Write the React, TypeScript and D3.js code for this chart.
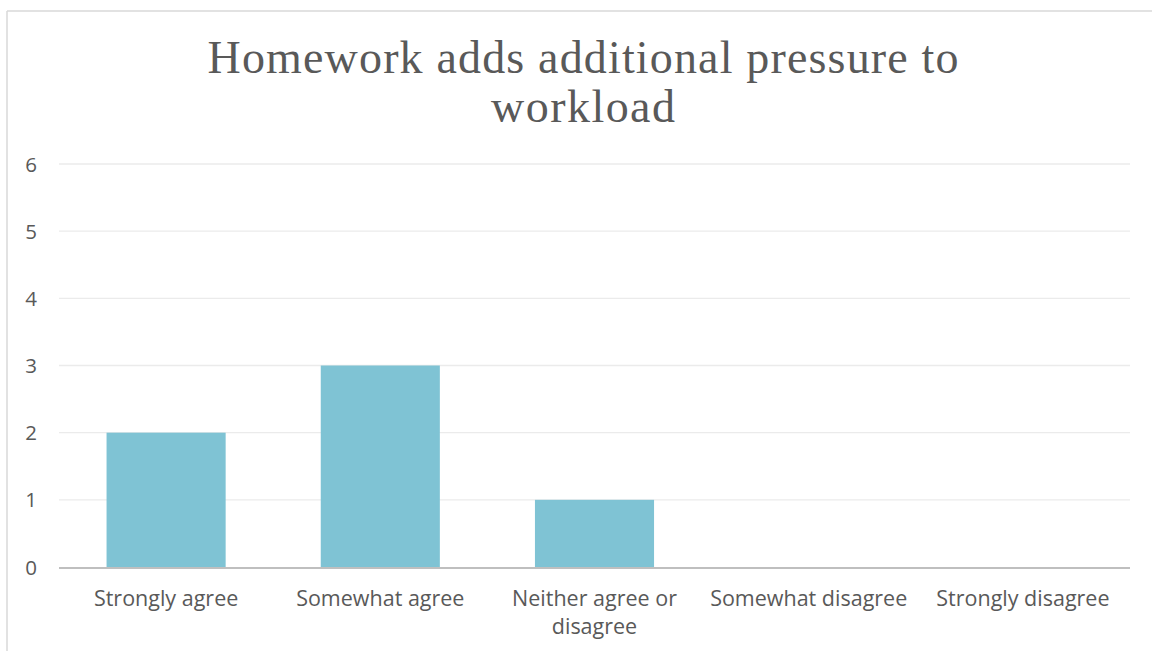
import React from "react";
import * as d3 from "d3";

const categories = [
  "Strongly agree",
  "Somewhat agree",
  "Neither agree or disagree",
  "Somewhat disagree",
  "Strongly disagree",
];
const categoryLines = [
  ["Strongly agree"],
  ["Somewhat agree"],
  ["Neither agree or", "disagree"],
  ["Somewhat disagree"],
  ["Strongly disagree"],
];
const values = [2, 3, 1, 0, 0];
const yTicks = [0, 1, 2, 3, 4, 5, 6];
const titleLines = ["Homework adds additional pressure to", "workload"];

const W = 1152;
const H = 651;
const plot = { left: 59, right: 1130, top: 164, bottom: 567 };

export default function App() {
  const x = d3
    .scaleBand<string>()
    .domain(categories)
    .range([plot.left, plot.right])
    .padding(0);
  const y = d3.scaleLinear().domain([0, 6]).range([plot.bottom, plot.top]);
  const barW = x.bandwidth() * 0.556;
  const textColor = "#595959";
  const titleCx = 583;
  const sans = "'Open Sans', 'Noto Sans', sans-serif";

  return (
    <svg
      width={W}
      height={H}
      style={{ position: "absolute", left: 0, top: 0, background: "#fff" }}
    >
      {/* chart frame */}
      <line x1={7} y1={11} x2={W} y2={11} stroke="#d9d9d9" strokeWidth={1.5} />
      <line x1={7} y1={11} x2={7} y2={H} stroke="#d9d9d9" strokeWidth={1.5} />

      {/* title */}
      <g fill={textColor} fontFamily="'Liberation Serif', serif" fontSize={46}>
        <text x={titleCx} y={73} textAnchor="middle" textLength={751} lengthAdjust="spacing">
          {titleLines[0]}
        </text>
        <text x={titleCx} y={122} textAnchor="middle" textLength={184} lengthAdjust="spacing">
          {titleLines[1]}
        </text>
      </g>

      {/* gridlines and y tick labels */}
      {yTicks.map((t) => (
        <g key={t}>
          {t > 0 && (
            <line
              x1={plot.left}
              x2={plot.right}
              y1={y(t)}
              y2={y(t)}
              stroke="#ebebeb"
              strokeWidth={1.3}
            />
          )}
          <text
            x={31}
            y={y(t) + 7.5}
            textAnchor="middle"
            fill={textColor}
            fontFamily={sans}
            fontSize={20.5}
          >
            {t}
          </text>
        </g>
      ))}

      {/* bars */}
      {categories.map((c, i) => (
        <rect
          key={c}
          x={(x(c) as number) + (x.bandwidth() - barW) / 2}
          y={y(values[i])}
          width={barW}
          height={y(0) - y(values[i])}
          fill="#7fc3d4"
        />
      ))}

      {/* x axis */}
      <line
        x1={plot.left}
        x2={plot.right}
        y1={plot.bottom + 1}
        y2={plot.bottom + 1}
        stroke="#bfbfbf"
        strokeWidth={2.2}
      />

      {/* category labels */}
      {categories.map((c, i) => (
        <text
          key={c}
          textAnchor="middle"
          fill={textColor}
          fontFamily={sans}
          fontSize={21.5}
        >
          {categoryLines[i].map((ln, j) => (
            <tspan key={j} x={(x(c) as number) + x.bandwidth() / 2} y={606 + j * 28}>
              {ln}
            </tspan>
          ))}
        </text>
      ))}
    </svg>
  );
}
